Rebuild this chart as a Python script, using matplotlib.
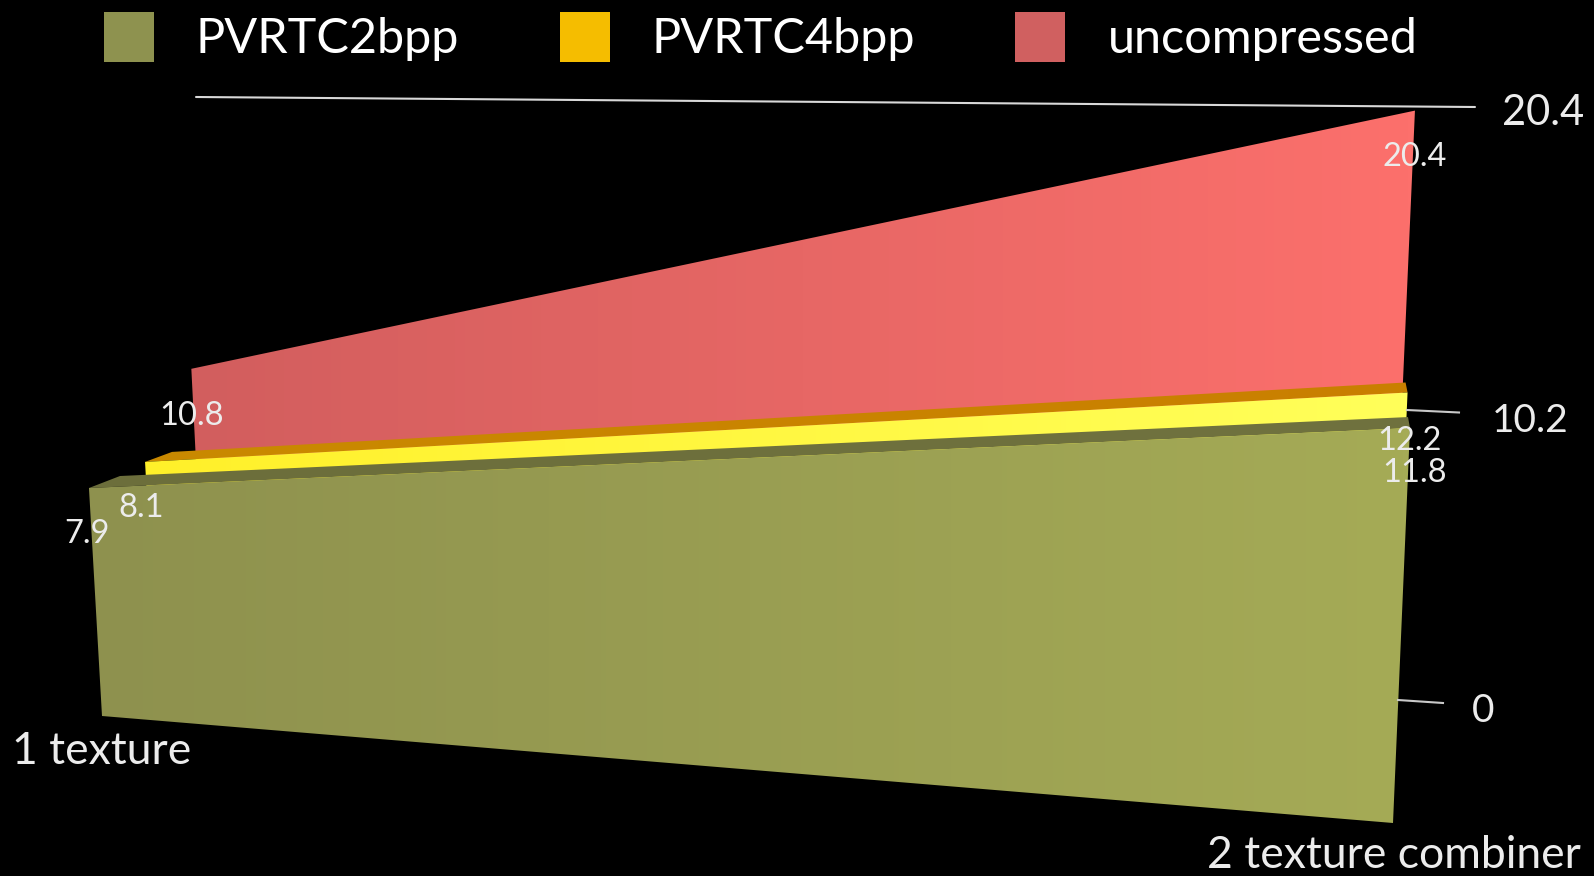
#!/usr/bin/env python
"""Perspective area chart: frame time per texture setup, three texture formats."""
import matplotlib

matplotlib.use("Agg")
import matplotlib.pyplot as plt
import numpy as np
from matplotlib.colors import LinearSegmentedColormap
from matplotlib.patches import Polygon, Rectangle

W, H = 1594, 876

categories = ["1 texture", "2 texture combiner"]
series_names = ["PVRTC2bpp", "PVRTC4bpp", "uncompressed"]
pvrtc2 = [7.9, 11.8]
pvrtc4 = [8.1, 12.2]
uncompressed = [10.8, 20.4]
axis_ticks = [0, 10.2, 20.4]

# camera: each plane is (left base, left px per unit, right base, right px per unit)
OLIVE_FRONT = ((102, 716), (-1.65, -28.86), (1393, 823), (1.44, -33.47))
OLIVE_BACK = ((133, 704), (-1.65, -28.86), (1391, 812), (1.44, -33.47))
YELLOW_FRONT = ((158, 696), (-1.6, -28.9), (1390, 789), (1.44, -32.5))
YELLOW_BACK = ((185, 686), (-1.6, -28.9), (1388, 779), (1.44, -32.5))
RED_FRONT = ((207, 682), (-1.45, -29.0), (1387, 743), (1.37, -31.0))

FONT = "Lato"
TEXT = "#ececec"


def project(plane, side, value):
    base = np.array(plane[side * 2], dtype=float)
    unit = np.array(plane[side * 2 + 1], dtype=float)
    return base + unit * value


def face(plane, vals):
    return [project(plane, 0, 0), project(plane, 1, 0),
            project(plane, 1, vals[1]), project(plane, 0, vals[0])]


def top_band(front, back, vals):
    return [project(front, 0, vals[0]), project(back, 0, vals[0]),
            project(back, 1, vals[1]), project(front, 1, vals[1])]


def shaded(ax, pts, left, right):
    # horizontal gradient clipped to the polygon
    pts = np.array(pts)
    cmap = LinearSegmentedColormap.from_list("g", [left, right])
    im = ax.imshow(np.linspace(0, 1, 256).reshape(1, -1), cmap=cmap, aspect="auto",
                   extent=(pts[:, 0].min(), pts[:, 0].max(), pts[:, 1].max(), pts[:, 1].min()),
                   interpolation="bilinear")
    clip = Polygon(pts, closed=True, transform=ax.transData)
    im.set_clip_path(clip)


fig = plt.figure(figsize=(W / 100, H / 100), dpi=100, facecolor="black")
ax = fig.add_axes([0, 0, 1, 1])
ax.set_facecolor("black")
ax.axis("off")

# top gridline and tick stubs
ax.plot([196, 1475], [97, 107], color="#d8d8d8", lw=1.5, solid_capstyle="round")
ax.plot([1407, 1459], [410, 412.5], color="#c8c8c8", lw=1.5)
ax.plot([1398, 1443], [700, 703], color="#c8c8c8", lw=1.5)

# painter's order, back to front
shaded(ax, face(RED_FRONT, uncompressed), "#d25e5e", "#fc706c")
shaded(ax, top_band(YELLOW_FRONT, YELLOW_BACK, pvrtc4), "#c98a00", "#c97f00")
shaded(ax, face(YELLOW_FRONT, pvrtc4), "#fff02a", "#ffff5a")
shaded(ax, top_band(OLIVE_FRONT, OLIVE_BACK, pvrtc2), "#6c6e3b", "#70723f")
shaded(ax, face(OLIVE_FRONT, pvrtc2), "#8e914e", "#a5ab56")

# value labels
label_pos = [((87, 534), (1415, 473)), ((141, 508), (1409, 441)), ((192, 416), (1415, 157))]
for vals, pos in zip([pvrtc2, pvrtc4, uncompressed], label_pos):
    for v, (x, y) in zip(vals, pos):
        ax.text(x, y, f"{v:g}", color=TEXT, fontsize=23.5, family=FONT, ha="center", va="center")

# axis tick labels
tick_pos = [(1483, 711), (1530, 421), (1543, 113)]
tick_size = [28, 28, 30]
for t, (x, y), fs in zip(axis_ticks, tick_pos, tick_size):
    ax.text(x, y, f"{t:g}", color=TEXT, fontsize=fs, family=FONT, ha="center", va="center")

# category labels
ax.text(12, 751, categories[0], color=TEXT, fontsize=32, family=FONT, ha="left", va="center")
ax.text(1581, 868, categories[1], color=TEXT, fontsize=32, family=FONT, ha="right", va="baseline")

# legend
swatch_x = [104, 560, 1015]
swatch_colors = ["#8e924f", "#f5bd00", "#d06060"]
text_x = [196, 652, 1108]
for name, sx, c, tx in zip(series_names, swatch_x, swatch_colors, text_x):
    ax.add_patch(Rectangle((sx, 12), 50, 50, color=c, lw=0))
    ax.text(tx, 53, name, color="white", fontsize=35, family=FONT, ha="left", va="baseline")

ax.set_xlim(0, W)
ax.set_ylim(H, 0)
fig.savefig("out.png", dpi=100, facecolor="black")
